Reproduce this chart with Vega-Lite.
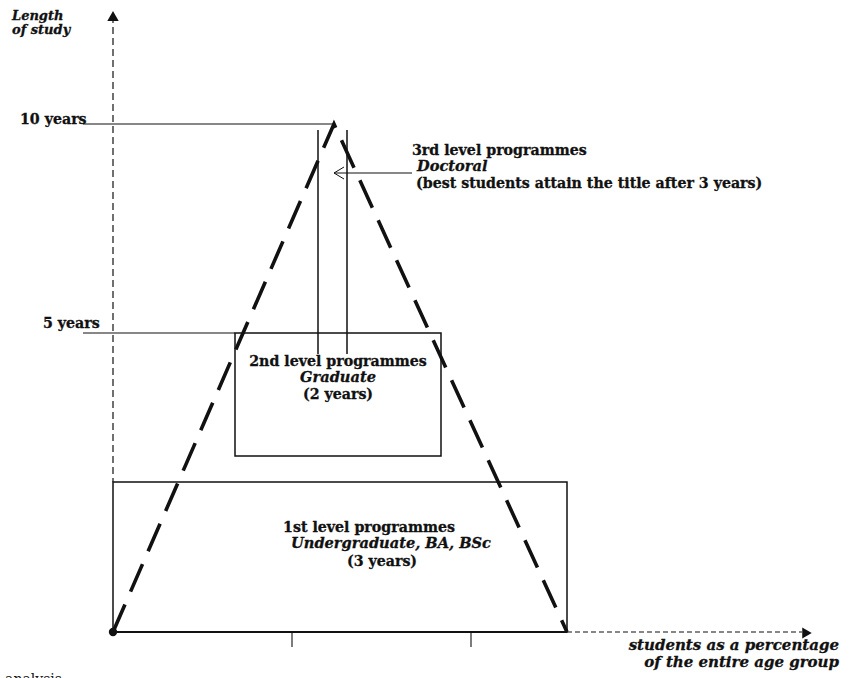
{
  "$schema": "https://vega.github.io/schema/vega-lite/v6.json",
  "width": 850,
  "height": 678,
  "padding": 0,
  "autosize": {"type": "fit", "contains": "padding"},
  "background": "white",
  "config": {"view": {"stroke": null}, "font": "DejaVu Serif"},
  "datasets": {
    "segments": [
      {"kind": "yaxis", "x": 113, "y": 662, "x2": 113, "y2": 196},
      {"kind": "xaxis", "x": 113, "y": 46, "x2": 567, "y2": 46},
      {"kind": "xaxisdash", "x": 567, "y": 46, "x2": 802, "y2": 46},
      {"kind": "tick", "x": 292, "y": 46, "x2": 292, "y2": 31},
      {"kind": "tick", "x": 471, "y": 46, "x2": 471, "y2": 31},
      {"kind": "guide", "x": 83, "y": 554, "x2": 335, "y2": 554},
      {"kind": "guide", "x": 83, "y": 345, "x2": 235, "y2": 345},
      {"kind": "doctoral", "x": 318, "y": 548, "x2": 318, "y2": 324},
      {"kind": "doctoral", "x": 347, "y": 548, "x2": 347, "y2": 324},
      {"kind": "guide", "x": 334, "y": 505, "x2": 412, "y2": 505}
    ],
    "boxes": [
      {"level": "1st", "x": 113, "x2": 567, "y": 46, "y2": 196},
      {"level": "2nd", "x": 235, "x2": 441, "y": 222, "y2": 345}
    ],
    "pyramid": [
      {"order": 1, "x": 113, "y": 46},
      {"order": 2, "x": 334, "y": 554},
      {"order": 3, "x": 567, "y": 46}
    ],
    "pointer": [
      {"order": 1, "x": 344, "y": 511},
      {"order": 2, "x": 334, "y": 505},
      {"order": 3, "x": 344, "y": 499}
    ]
  },
  "layer": [
    {
      "data": {"name": "boxes"},
      "mark": {"type": "rect", "fill": null, "stroke": "#111", "strokeWidth": 1.5},
      "encoding": {
        "x": {"field": "x", "type": "quantitative", "scale": {"domain": [0, 850], "nice": false, "zero": false}, "axis": null},
        "x2": {"field": "x2"},
        "y": {"field": "y", "type": "quantitative", "scale": {"domain": [0, 678], "nice": false, "zero": false}, "axis": null},
        "y2": {"field": "y2"}
      }
    },
    {
      "data": {"name": "segments"},
      "transform": [{"filter": "datum.kind === 'yaxis'"}],
      "mark": {"type": "rule", "stroke": "#111", "strokeWidth": 1.2, "strokeDash": [7, 4]},
      "encoding": {
        "x": {"field": "x", "type": "quantitative"}, "x2": {"field": "x2"},
        "y": {"field": "y", "type": "quantitative"}, "y2": {"field": "y2"}
      }
    },
    {
      "data": {"name": "segments"},
      "transform": [{"filter": "datum.kind === 'xaxisdash'"}],
      "mark": {"type": "rule", "stroke": "#111", "strokeWidth": 1.2, "strokeDash": [5, 3]},
      "encoding": {
        "x": {"field": "x", "type": "quantitative"}, "x2": {"field": "x2"},
        "y": {"field": "y", "type": "quantitative"}, "y2": {"field": "y2"}
      }
    },
    {
      "data": {"name": "segments"},
      "transform": [{"filter": "datum.kind === 'xaxis'"}],
      "mark": {"type": "rule", "stroke": "#111", "strokeWidth": 2.2},
      "encoding": {
        "x": {"field": "x", "type": "quantitative"}, "x2": {"field": "x2"},
        "y": {"field": "y", "type": "quantitative"}, "y2": {"field": "y2"}
      }
    },
    {
      "data": {"name": "segments"},
      "transform": [{"filter": "datum.kind === 'tick' || datum.kind === 'guide'"}],
      "mark": {"type": "rule", "stroke": "#111", "strokeWidth": 1.1},
      "encoding": {
        "x": {"field": "x", "type": "quantitative"}, "x2": {"field": "x2"},
        "y": {"field": "y", "type": "quantitative"}, "y2": {"field": "y2"}
      }
    },
    {
      "data": {"name": "segments"},
      "transform": [{"filter": "datum.kind === 'doctoral'"}],
      "mark": {"type": "rule", "stroke": "#111", "strokeWidth": 1.5},
      "encoding": {
        "x": {"field": "x", "type": "quantitative"}, "x2": {"field": "x2"},
        "y": {"field": "y", "type": "quantitative"}, "y2": {"field": "y2"}
      }
    },
    {
      "data": {"name": "pyramid"},
      "mark": {"type": "line", "stroke": "#111", "strokeWidth": 3.6, "strokeDash": [30, 14], "strokeCap": "butt"},
      "encoding": {
        "x": {"field": "x", "type": "quantitative"},
        "y": {"field": "y", "type": "quantitative"},
        "order": {"field": "order"}
      }
    },
    {
      "data": {"name": "pointer"},
      "mark": {"type": "line", "stroke": "#111", "strokeWidth": 1},
      "encoding": {
        "x": {"field": "x", "type": "quantitative"},
        "y": {"field": "y", "type": "quantitative"},
        "order": {"field": "order"}
      }
    },
    {
      "data": {"values": [{"x": 113, "y": 46}]},
      "mark": {"type": "point", "shape": "circle", "filled": true, "color": "#111", "size": 70, "opacity": 1},
      "encoding": {"x": {"field": "x", "type": "quantitative"}, "y": {"field": "y", "type": "quantitative"}}
    },
    {
      "data": {"values": [{"x": 113, "y": 662}]},
      "mark": {"type": "point", "shape": "triangle-up", "filled": true, "color": "#111", "size": 130, "opacity": 1},
      "encoding": {"x": {"field": "x", "type": "quantitative"}, "y": {"field": "y", "type": "quantitative"}}
    },
    {
      "data": {"values": [{"x": 807, "y": 45}]},
      "mark": {"type": "point", "shape": "triangle-right", "filled": true, "color": "#111", "size": 120, "opacity": 1},
      "encoding": {"x": {"field": "x", "type": "quantitative"}, "y": {"field": "y", "type": "quantitative"}}
    },
    {
      "data": {"values": [
        {"t": "10 years", "x": 20, "y": 554},
        {"t": "5 years", "x": 43, "y": 350},
        {"t": "3rd level programmes", "x": 412, "y": 523},
        {"t": "(best students attain the title after 3 years)", "x": 416, "y": 490}
      ]},
      "mark": {"type": "text", "align": "left", "baseline": "alphabetic", "font": "DejaVu Serif", "fontWeight": "bold", "fontSize": 14.2, "color": "#111", "stroke": "#111", "strokeWidth": 0.3},
      "encoding": {"x": {"field": "x", "type": "quantitative"}, "y": {"field": "y", "type": "quantitative"}, "text": {"field": "t"}}
    },
    {
      "data": {"values": [
        {"t": "Length", "x": 12, "y": 658},
        {"t": "of study", "x": 12, "y": 644}
      ]},
      "mark": {"type": "text", "align": "left", "baseline": "alphabetic", "font": "DejaVu Serif", "fontWeight": "bold", "fontStyle": "italic", "fontSize": 13, "color": "#111", "stroke": "#111", "strokeWidth": 0.3},
      "encoding": {"x": {"field": "x", "type": "quantitative"}, "y": {"field": "y", "type": "quantitative"}, "text": {"field": "t"}}
    },
    {
      "data": {"values": [
        {"t": "Doctoral", "x": 417, "y": 507}
      ]},
      "mark": {"type": "text", "align": "left", "baseline": "alphabetic", "font": "DejaVu Serif", "fontWeight": "bold", "fontStyle": "italic", "fontSize": 14.6, "color": "#111", "stroke": "#111", "strokeWidth": 0.3},
      "encoding": {"x": {"field": "x", "type": "quantitative"}, "y": {"field": "y", "type": "quantitative"}, "text": {"field": "t"}}
    },
    {
      "data": {"values": [
        {"t": "2nd level programmes", "x": 338, "y": 312},
        {"t": "(2 years)", "x": 338, "y": 279},
        {"t": "1st level programmes", "x": 369, "y": 146},
        {"t": "(3 years)", "x": 382, "y": 112}
      ]},
      "mark": {"type": "text", "align": "center", "baseline": "alphabetic", "font": "DejaVu Serif", "fontWeight": "bold", "fontSize": 14.2, "color": "#111", "stroke": "#111", "strokeWidth": 0.3},
      "encoding": {"x": {"field": "x", "type": "quantitative"}, "y": {"field": "y", "type": "quantitative"}, "text": {"field": "t"}}
    },
    {
      "data": {"values": [
        {"t": "Graduate", "x": 338, "y": 296},
        {"t": "Undergraduate, BA, BSc", "x": 391, "y": 130}
      ]},
      "mark": {"type": "text", "align": "center", "baseline": "alphabetic", "font": "DejaVu Serif", "fontWeight": "bold", "fontStyle": "italic", "fontSize": 14.6, "color": "#111", "stroke": "#111", "strokeWidth": 0.3},
      "encoding": {"x": {"field": "x", "type": "quantitative"}, "y": {"field": "y", "type": "quantitative"}, "text": {"field": "t"}}
    },
    {
      "data": {"values": [
        {"t": "students as a percentage", "x": 839, "y": 28},
        {"t": "of the entire age group", "x": 839, "y": 11}
      ]},
      "mark": {"type": "text", "align": "right", "baseline": "alphabetic", "font": "DejaVu Serif", "fontWeight": "bold", "fontStyle": "italic", "fontSize": 15, "color": "#111", "stroke": "#111", "strokeWidth": 0.3},
      "encoding": {"x": {"field": "x", "type": "quantitative"}, "y": {"field": "y", "type": "quantitative"}, "text": {"field": "t"}}
    },
    {
      "data": {"values": [{"t": "analysis", "x": 62, "y": -6}]},
      "mark": {"type": "text", "align": "right", "baseline": "alphabetic", "font": "DejaVu Serif", "fontSize": 14, "color": "#111", "clip": true},
      "encoding": {"x": {"field": "x", "type": "quantitative"}, "y": {"field": "y", "type": "quantitative"}, "text": {"field": "t"}}
    }
  ]
}
